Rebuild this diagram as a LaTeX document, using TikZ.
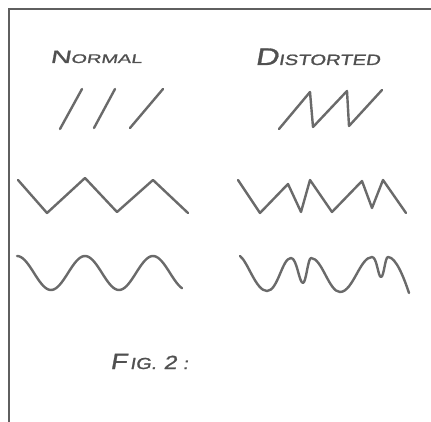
\documentclass[tikz,border=0pt]{standalone}
\usepackage{fontspec}
\newfontfamily\handA[FakeSlant=0.18, FakeBold=1.2, FakeStretch=1.6]{Liberation Sans}
\newfontfamily\handB[FakeSlant=0.18, FakeBold=1.2, FakeStretch=1.35]{Liberation Sans}
\newfontfamily\handC[FakeSlant=0.18, FakeBold=1.2, FakeStretch=1.25]{Liberation Sans}
\definecolor{ink}{HTML}{6A6A6A}
\definecolor{txtink}{HTML}{505050}
\tikzset{
  wave/.style={draw=ink, line width=2.4pt, line cap=round, line join=round},
  frame/.style={draw=ink!90!black, line width=1.8pt},
  label/.style={inner sep=0pt, outer sep=0pt, text=txtink, anchor=base west}
}
\begin{document}
\begin{tikzpicture}[x=1pt, y=-1pt]
\useasboundingbox[fill=white] (0,0) rectangle (431,422);
% frame
\coordinate (fbl) at (9,422);
\coordinate (ftl) at (9,9);
\coordinate (ftr) at (431,9);
\draw[frame] (fbl) -- (ftl) -- (ftr);
% headings
\node[label, font=\handA] (normal) at (50,63) {\fontsize{18}{18}\selectfont N\fontsize{12.5}{12.5}\selectfont ORMAL};
\node[label, font=\handB] (distorted) at (255,65) {\fontsize{24}{24}\selectfont D\fontsize{15}{15}\selectfont ISTORTED};
% row 1: normal slashes
\draw[wave] (60,129) -- (82,89);
\draw[wave] (94,128) -- (115,89);
\draw[wave] (130,128) -- (163,89);
% row 1: distorted sawtooth
\draw[wave] (279,129) -- (310,92) -- (313,127) -- (347,91) -- (349,126) -- (382,90);
% row 2: normal triangle
\draw[wave] (18,180) -- (47,213) -- (85,178) -- (117,212) -- (153,180) -- (188,213);
% row 2: distorted triangle
\draw[wave] (238,180) -- (260,213) -- (288,184) -- (301,212) -- (310,180) -- (332,212) -- (362,181) -- (372,208) -- (383,180) -- (406,213);
% row 3: normal sine
\draw[wave] plot[domain=17:182, samples=90] (\x, {273-17*cos((\x-17)/68*360)});
% row 3: distorted sine
\draw[wave] (240,256) .. controls (248,262) and (256,291) .. (267,291)
  .. controls (278,291) and (282,258) .. (291,258)
  .. controls (297,258) and (299,283) .. (303,283)
  .. controls (306,283) and (308,258) .. (311,258)
  .. controls (322,258) and (329,292) .. (340,292)
  .. controls (353,292) and (360,257) .. (372,257)
  .. controls (377,257) and (378,277) .. (381,277)
  .. controls (384,277) and (385,257) .. (388,257)
  .. controls (396,257) and (404,278) .. (409,293);
% caption
\node[label, font=\handC] (fig) at (110,369) {\fontsize{22}{22}\selectfont F\hspace{3pt}\fontsize{16}{16}\selectfont IG.\hspace{7pt}\fontsize{19}{19}\selectfont 2\hspace{6pt}\fontsize{16}{16}\selectfont :};
\end{tikzpicture}
\end{document}
